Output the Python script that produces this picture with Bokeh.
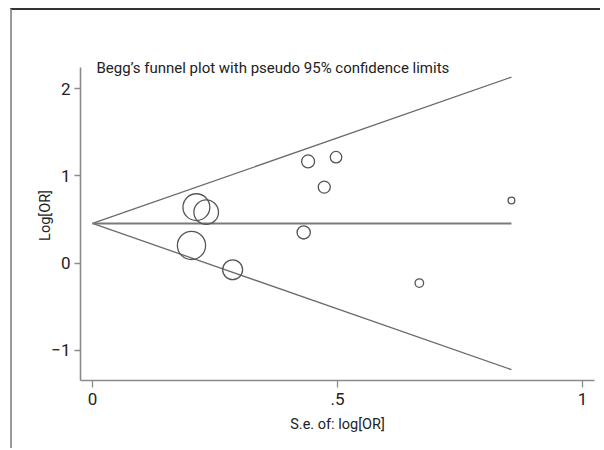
from bokeh.plotting import figure
from bokeh.models import FixedTicker, Range1d, Label, ColumnDataSource
from bokeh.embed import file_html
from bokeh.resources import INLINE

# ---- data ----
se_logor = [0.440, 0.497, 0.473, 0.855, 0.212, 0.232, 0.431, 0.202, 0.286, 0.667]
log_or = [1.165, 1.214, 0.871, 0.718, 0.641, 0.584, 0.352, 0.203, -0.076, -0.229]
pooled_log_or = 0.455
x_ticks = [0, 0.5, 1]
x_tick_labels = ["0", ".5", "1"]
y_ticks = [-1, 0, 1, 2]
y_tick_labels = ["\u22121", "0", "1", "2"]
title_text = "Begg\u2019s funnel plot with pseudo 95% confidence limits"
x_label = "S.e. of: log[OR]"
y_label = "Log[OR]"

FONT = "Roboto"

se_max = max(se_logor)
funnel_x = [0, se_max]
upper = [pooled_log_or, pooled_log_or + 1.96 * se_max]
lower = [pooled_log_or, pooled_log_or - 1.96 * se_max]

src = ColumnDataSource(dict(
    se=se_logor,
    lor=log_or,
    size=[5.7 / s for s in se_logor],
))

Y_BOTTOM, Y_AXIS_TOP, Y_FRAME_TOP = -1.345, 2.242, 2.436

p = figure(width=590, height=440, output_backend="svg", toolbar_location=None,
           x_range=Range1d(-0.0245, 1.0245), y_range=Range1d(Y_BOTTOM, Y_FRAME_TOP),
           min_border_left=68, min_border_right=8, min_border_top=40, min_border_bottom=70,
           styles={"border-top": "2px solid #333333", "border-left": "2px solid #9a9a9a",
                   "margin-left": "10px", "margin-top": "8px"})

p.outline_line_color = None
p.xgrid.visible = False
p.ygrid.visible = False
p.background_fill_color = "white"
p.border_fill_color = "white"

# funnel lines
p.line(funnel_x, upper, line_color="#6a6a6a", line_width=1.3)
p.line(funnel_x, lower, line_color="#6a6a6a", line_width=1.3)
p.line(funnel_x, [pooled_log_or, pooled_log_or], line_color="#7a7a7a", line_width=2)

# study points
p.scatter("se", "lor", source=src, size="size", marker="circle",
          fill_color=None, line_color="#555555", line_width=1.3)

# axes
for ax in (p.xaxis[0], p.yaxis[0]):
    ax.axis_line_color = "#8a8a8a"
    ax.axis_line_width = 1.6
    ax.major_tick_line_color = "#8a8a8a"
    ax.major_tick_line_width = 1.3
    ax.major_tick_in = 0
    ax.minor_tick_line_color = None
    ax.major_label_text_font = FONT
    ax.major_label_text_font_size = "17px"
    ax.major_label_text_color = "#222222"
    ax.axis_label_text_font = FONT
    ax.axis_label_text_font_size = "14.5px"
    ax.axis_label_text_font_style = "normal"
    ax.axis_label_text_color = "#222222"

p.xaxis[0].ticker = FixedTicker(ticks=x_ticks)
p.xaxis[0].major_label_overrides = dict(zip(x_ticks, x_tick_labels))
p.xaxis[0].major_tick_out = 7
p.xaxis[0].major_label_standoff = 5
p.xaxis[0].axis_label = x_label
p.xaxis[0].axis_label_standoff = 8

p.yaxis[0].ticker = FixedTicker(ticks=y_ticks)
p.yaxis[0].major_label_overrides = dict(zip(y_ticks, y_tick_labels))
p.yaxis[0].major_tick_out = 6
p.yaxis[0].major_label_standoff = 4
p.yaxis[0].axis_label = y_label
p.yaxis[0].axis_label_standoff = -6
p.yaxis[0].bounds = (Y_BOTTOM, Y_AXIS_TOP)

# title inside the plot area
p.add_layout(Label(x=0.008, y=2.23, text=title_text, text_font=FONT,
                   text_font_size="15px", text_color="#222222",
                   text_baseline="middle", text_align="left"))

open("out.html", "w").write(file_html(p, INLINE))
